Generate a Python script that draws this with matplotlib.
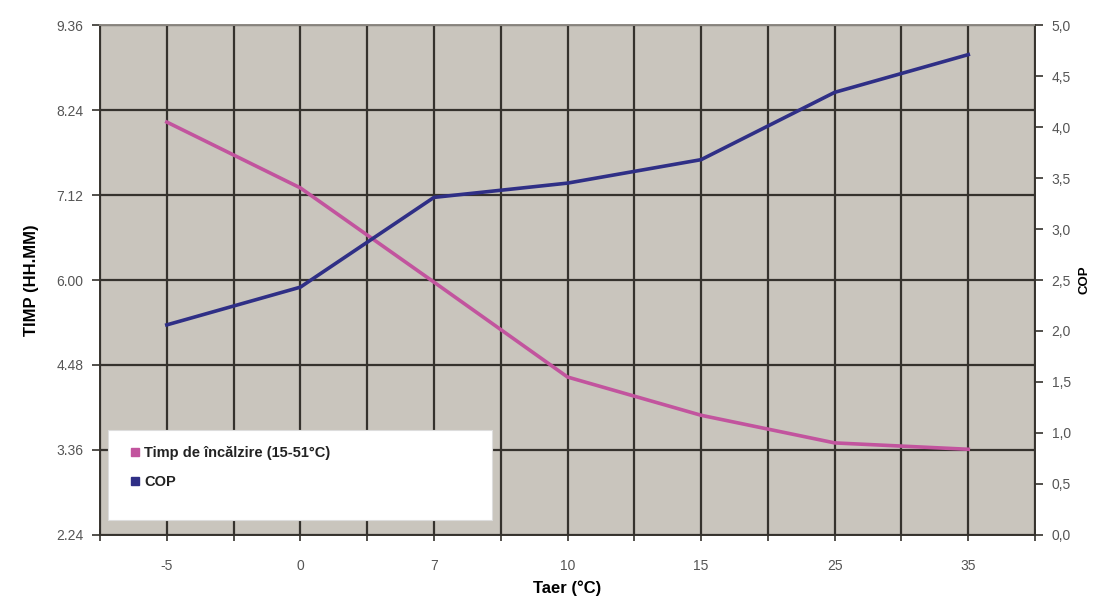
import matplotlib
matplotlib.use("Agg")
import matplotlib.pyplot as plt
from matplotlib.lines import Line2D
from matplotlib.patches import Rectangle
import numpy as np

plt.rcParams['font.family'] = ['Liberation Sans', 'DejaVu Sans']

# data
taer = ["-5", "0", "7", "10", "15", "25", "35"]
timp_ore = [8.23, 7.30, 5.97, 4.63, 4.09, 3.70, 3.61]   # hours (decimal)
cop = [2.06, 2.43, 3.31, 3.45, 3.68, 4.34, 4.71]

left_ticks = [2.4, 3.6, 4.8, 6.0, 7.2, 8.4, 9.6]
right_ticks = [0.0, 0.5, 1.0, 1.5, 2.0, 2.5, 3.0, 3.5, 4.0, 4.5, 5.0]


def hhmm(v):
    h = int(v + 1e-9)
    m = int(round((v - h) * 60))
    return "%d.%02d" % (h, m)


bg = "#c9c5bd"
grid_c = "#35322d"
pink = "#c2549e"
blue = "#2f2f86"
tick_c = "#555555"

fig = plt.figure(figsize=(10.93, 6.03), dpi=100)
ax = fig.add_axes([0.0915, 0.1128, 0.8555, 0.8457])
ax.set_facecolor(bg)

x = np.arange(len(taer))
ax.plot(x, timp_ore, color=pink, lw=2.6, zorder=3)

ax.set_xlim(-0.5, len(taer) - 0.5)
ax.set_ylim(left_ticks[0], left_ticks[-1])
ax.set_xticks(x)
ax.set_xticklabels(taer)
ax.set_xticks(np.arange(-0.5, len(taer), 1.0), minor=True)
ax.set_yticks(left_ticks)
ax.set_yticklabels([hhmm(v) for v in left_ticks])

# grid at category centres and boundaries
for gx in np.arange(-0.5, len(taer), 0.5):
    ax.axvline(gx, color=grid_c, lw=1.6, zorder=1)
for gy in left_ticks:
    ax.axhline(gy, color=grid_c, lw=1.6, zorder=1)

ax.tick_params(axis='x', which='both', direction='inout', length=8, width=1.2,
               color=grid_c, labelsize=10, labelcolor=tick_c, pad=13)
ax.tick_params(axis='y', direction='out', length=6, width=1.2, color=grid_c,
               labelsize=10, labelcolor=tick_c, pad=6)
for s in ax.spines.values():
    s.set_color(grid_c)
    s.set_linewidth(1.4)
ax.spines['top'].set_color("#8a8680")

ax.set_xlabel("Taer (°C)", fontsize=12, fontweight='bold', labelpad=6)
ax.set_ylabel("TIMP (HH.MM)", fontsize=12, fontweight='bold', labelpad=12)

ax2 = ax.twinx()
ax2.plot(x, cop, color=blue, lw=2.6, zorder=3)
ax2.set_ylim(right_ticks[0], right_ticks[-1])
ax2.set_yticks(right_ticks)
ax2.set_yticklabels([("%.1f" % v).replace(".", ",") for v in right_ticks])
ax2.tick_params(axis='y', direction='out', length=6, width=1.2, color=grid_c,
                labelsize=10, labelcolor=tick_c, pad=6)
for s in ax2.spines.values():
    s.set_visible(False)
ax2.set_ylabel("COP", fontsize=9.5, fontweight='bold', labelpad=5)

# legend box
ax2.add_patch(Rectangle((0.009, 0.029), 0.41, 0.177, transform=ax2.transAxes,
                        facecolor='white', edgecolor='#dddddd', lw=0.8, zorder=5))
handles = [Line2D([], [], marker='s', ls='none', color=pink, markersize=6),
           Line2D([], [], marker='s', ls='none', color=blue, markersize=6)]
leg = ax2.legend(handles, ["Timp de încălzire (15-51°C)", "COP"],
                 loc='upper left', bbox_to_anchor=(0.016, 0.2),
                 frameon=False, fontsize=10.5, handletextpad=0.1,
                 handlelength=1.0, labelspacing=1.0)
leg.set_zorder(6)
for t in leg.get_texts():
    t.set_fontweight('bold')
    t.set_color('#222222')

fig.savefig("out.png", dpi=100)
